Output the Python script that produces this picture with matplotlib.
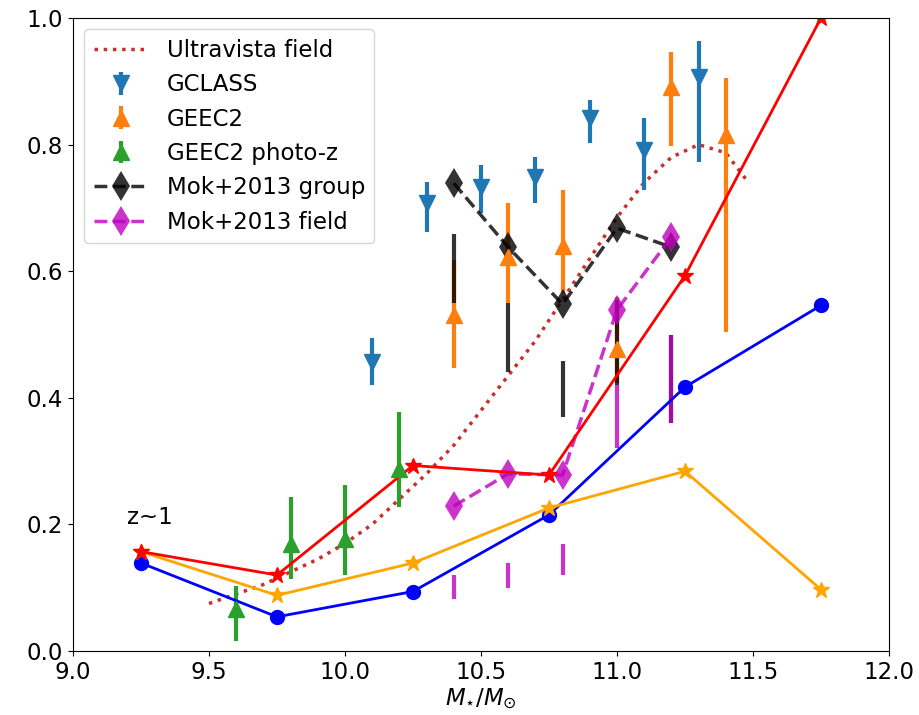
import numpy as np
import matplotlib
matplotlib.use("Agg")
import matplotlib.pyplot as plt

# Ultravista field curve
uv_mass = [9.5, 9.6, 9.7, 9.8, 9.9, 10.0, 10.1, 10.2, 10.3, 10.4, 10.5,
           10.6, 10.7, 10.8, 10.9, 11.0, 11.1, 11.2, 11.3, 11.4, 11.48]
uv_frac = [0.075, 0.09, 0.105, 0.125, 0.145, 0.17, 0.20, 0.24, 0.28, 0.325, 0.38,
           0.435, 0.49, 0.555, 0.62, 0.685, 0.74, 0.78, 0.80, 0.787, 0.742]

# GCLASS
gc_mass = [10.1, 10.3, 10.5, 10.7, 10.9, 11.1, 11.3]
gc_frac = [0.457, 0.708, 0.733, 0.749, 0.842, 0.792, 0.907]
gc_lo = [0.421, 0.662, 0.692, 0.708, 0.803, 0.729, 0.773]
gc_hi = [0.494, 0.741, 0.768, 0.781, 0.871, 0.842, 0.964]

# GEEC2
ge_mass = [10.4, 10.6, 10.8, 11.0, 11.2, 11.4]
ge_frac = [0.531, 0.622, 0.640, 0.477, 0.891, 0.815]
ge_lo = [0.447, 0.55, 0.565, 0.423, 0.798, 0.504]
ge_hi = [0.618, 0.708, 0.728, 0.559, 0.946, 0.905]

# GEEC2 photo-z
gp_mass = [9.6, 9.8, 10.0, 10.2]
gp_frac = [0.066, 0.169, 0.177, 0.287]
gp_lo = [0.016, 0.114, 0.12, 0.227]
gp_hi = [0.103, 0.244, 0.262, 0.377]

# Mok+2013
mok_mass = [10.4, 10.6, 10.8, 11.0, 11.2]
mok_grp = [0.739, 0.638, 0.548, 0.668, 0.638]
mok_grp_lo = [0.55, 0.441, 0.37, 0.42, 0.36]
mok_grp_hi = [0.659, 0.55, 0.458, 0.555, 0.50]
mok_fld = [0.229, 0.28, 0.278, 0.539, 0.654]
mok_fld_lo = [0.082, 0.10, 0.12, 0.32, 0.36]
mok_fld_hi = [0.12, 0.139, 0.169, 0.42, 0.50]

# model curves
mass = [9.25, 9.75, 10.25, 10.75, 11.25, 11.75]
blue_frac = [0.139, 0.054, 0.094, 0.215, 0.417, 0.546]
orange_frac = [0.157, 0.088, 0.139, 0.226, 0.284, 0.097]
red_frac = [0.157, 0.12, 0.293, 0.278, 0.593, 1.0]

plt.rcParams["font.size"] = 16.5

fig = plt.figure(figsize=(9.2, 7.15), dpi=100)
ax = fig.add_axes([0.0793, 0.0895, 0.887, 0.8853])


def err(y, lo, hi):
    y, lo, hi = np.array(y), np.array(lo), np.array(hi)
    return [y - lo, hi - y]


uv, = ax.plot(uv_mass, uv_frac, ":", color="#c8302c", lw=2.5,
              label="Ultravista field")
gc = ax.errorbar(gc_mass, gc_frac, yerr=err(gc_frac, gc_lo, gc_hi), fmt="v",
                 color="C0", ms=12, elinewidth=3, label="GCLASS")
ge = ax.errorbar(ge_mass, ge_frac, yerr=err(ge_frac, ge_lo, ge_hi), fmt="^",
                 color="C1", ms=12, elinewidth=3, label="GEEC2")
gp = ax.errorbar(gp_mass, gp_frac, yerr=err(gp_frac, gp_lo, gp_hi), fmt="^",
                 color="C2", ms=12, elinewidth=3, label="GEEC2 photo-z")

ax.vlines(mok_mass, mok_grp_lo, mok_grp_hi, color="k", lw=3, alpha=0.8)
mg, = ax.plot(mok_mass, mok_grp, "--d", color="k", ms=15, mew=0, lw=2.5,
              alpha=0.8, label="Mok+2013 group")
ax.vlines(mok_mass, mok_fld_lo, mok_fld_hi, color="m", lw=3, alpha=0.8)
mf, = ax.plot(mok_mass, mok_fld, "--d", color="m", ms=15, mew=0, lw=2.5,
              alpha=0.8, label="Mok+2013 field")

ax.plot(mass, blue_frac, "-o", color="b", lw=2, ms=10)
ax.plot(mass, orange_frac, "-*", color="orange", lw=2, ms=12)
ax.plot(mass, red_frac, "-*", color="r", lw=2, ms=12)

ax.text(9.2, 0.2, "z~1", fontsize=16.5)

ax.set_xlim(9.0, 12.0)
ax.set_ylim(0.0, 1.0)
ax.set_xticks(np.arange(9.0, 12.01, 0.5))
ax.set_yticks(np.arange(0.0, 1.01, 0.2))
ax.set_xlabel(r"$M_{\star}/M_{\odot}$", labelpad=2)
ax.legend(handles=[uv, gc, ge, gp, mg, mf], loc="upper left", fontsize=16.5,
          handlelength=2.4)

fig.savefig("out.png", dpi=100)
